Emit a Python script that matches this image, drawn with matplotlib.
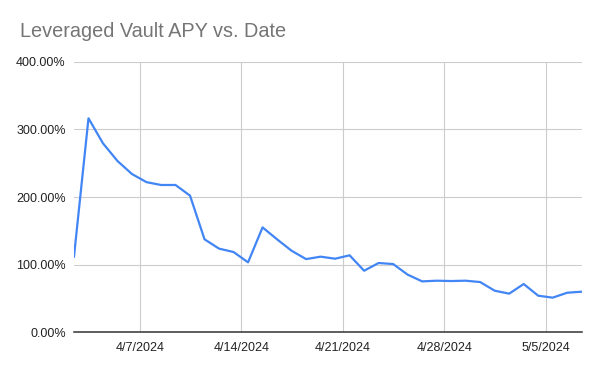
import matplotlib
matplotlib.use("Agg")
import matplotlib.pyplot as plt
import matplotlib.dates as mdates
from matplotlib.ticker import FuncFormatter
import pandas as pd

# one reading per day, starting 4/2/2024
dates = pd.date_range("2024-04-02 11:00", periods=36, freq="D")
apy = [111.6, 316.6, 279.5, 253.3, 234.0, 222.0, 217.8, 217.8, 202.0, 137.3,
       123.5, 118.5, 103.2, 155.0, 137.3, 120.4, 108.0, 111.6, 108.6, 113.6,
       90.8, 102.2, 100.7, 85.0, 75.0, 76.0, 75.5, 76.0, 74.0, 61.2,
       56.8, 71.1, 53.8, 50.9, 58.2, 59.7]
yticks = [0, 100, 200, 300, 400]
xticks = pd.to_datetime(["2024-04-07", "2024-04-14", "2024-04-21", "2024-04-28", "2024-05-05"])

plt.rcParams["font.family"] = ["Liberation Sans", "DejaVu Sans"]

fig = plt.figure(figsize=(6, 3.71), dpi=100)
ax = fig.add_axes([0.1233, 0.1051, 0.8462, 0.7278])

ax.plot(dates, apy, color="#4285F4", lw=1.6, solid_joinstyle="round", zorder=3)

ax.set_ylim(0, 400)
ax.set_xlim(dates[0], dates[-1])
ax.set_yticks(yticks)
ax.yaxis.set_major_formatter(FuncFormatter(lambda v, p: f"{v:.2f}%"))
ax.set_xticks(xticks)
ax.xaxis.set_major_formatter(FuncFormatter(
    lambda v, p: f"{mdates.num2date(v).month}/{mdates.num2date(v).day}/{mdates.num2date(v).year}"))

ax.grid(True, color="#cccccc", lw=0.8)
ax.set_axisbelow(True)
for s in ["top", "right", "left"]:
    ax.spines[s].set_visible(False)
ax.spines["bottom"].set_color("#333333")
ax.spines["bottom"].set_linewidth(1.1)
ax.spines["bottom"].set_zorder(4)
ax.tick_params(length=0, labelsize=9, colors="#222222", pad=6)
ax.tick_params(axis="x", pad=7)

fig.text(0.034, 0.90, "Leveraged Vault APY vs. Date", fontsize=14.3, color="#757575")

fig.savefig("out.png", dpi=100)
